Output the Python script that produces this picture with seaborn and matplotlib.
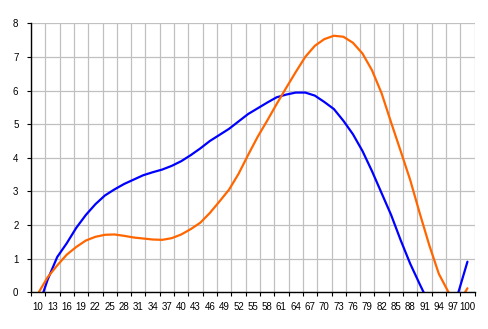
import matplotlib
matplotlib.use("Agg")
import matplotlib.pyplot as plt
import pandas as pd
import seaborn as sns

# Sample positions along the horizontal axis
x_values = [10, 12, 14, 16, 18, 20, 22, 24, 26, 28, 30, 32, 34, 36, 38, 40,
            42, 44, 46, 48, 50, 52, 54, 56, 58, 60, 62, 64, 66, 68, 70, 72,
            74, 76, 78, 80, 82, 84, 86, 88, 90, 92, 94, 96, 98, 100]

# Blue series
blue_values = [-0.45, 0.38, 1.05, 1.46, 1.92, 2.30, 2.62, 2.88, 3.06, 3.22,
               3.35, 3.48, 3.57, 3.65, 3.76, 3.90, 4.08, 4.28, 4.50, 4.68,
               4.86, 5.08, 5.30, 5.47, 5.64, 5.80, 5.88, 5.94, 5.94, 5.85,
               5.66, 5.45, 5.10, 4.70, 4.20, 3.60, 2.95, 2.30, 1.55, 0.85,
               0.24, -0.35, -0.80, -0.80, -0.05, 0.91]

# Orange series
orange_values = [-0.03, 0.45, 0.80, 1.12, 1.35, 1.54, 1.65, 1.71, 1.72, 1.68,
                 1.63, 1.60, 1.57, 1.56, 1.61, 1.72, 1.88, 2.07, 2.36, 2.70,
                 3.05, 3.52, 4.08, 4.62, 5.10, 5.60, 6.08, 6.55, 7.00, 7.33,
                 7.53, 7.63, 7.60, 7.42, 7.10, 6.60, 5.92, 5.05, 4.20, 3.34,
                 2.35, 1.40, 0.55, 0.01, -0.35, 0.12]

# Category labels along the bottom axis
x_labels = [10, 13, 16, 19, 22, 25, 28, 31, 34, 37, 40, 43, 46, 49, 52, 55,
            58, 61, 64, 67, 70, 73, 76, 79, 82, 85, 88, 91, 94, 97, 100]
y_labels = [0, 1, 2, 3, 4, 5, 6, 7, 8]

df = pd.DataFrame({
    "x": x_values * 2,
    "value": blue_values + orange_values,
    "series": ["blue"] * len(x_values) + ["orange"] * len(x_values),
})

sns.set_style("white")
plt.rcParams["font.family"] = ["Liberation Sans", "DejaVu Sans"]

fig = plt.figure(figsize=(4.89, 3.29), dpi=100)
ax = fig.add_axes([31 / 489, 36.7 / 329, (474.3 - 30.7) / 489, (292.3 - 23.3) / 329])

sns.lineplot(data=df, x="x", y="value", hue="series",
             hue_order=["blue", "orange"],
             palette={"blue": "#0000FF", "orange": "#FF6600"},
             linewidth=1.6, legend=False, ax=ax, zorder=3)

half = 1.5
ax.set_xlim(x_labels[0] - half, x_labels[-1] + half)
ax.set_ylim(0, 8)

# Labels sit in the middle of each category; ticks and grid mark the boundaries
ax.set_xticks(x_labels)
ax.set_xticklabels([str(v) for v in x_labels])
boundaries = [x_labels[0] - half + 3 * k for k in range(len(x_labels) + 1)]
ax.set_xticks(boundaries, minor=True)
ax.tick_params(axis="x", which="major", length=0, pad=7, labelsize=7, colors="black")
ax.tick_params(axis="x", which="minor", direction="out", length=3, width=0.8,
               color="black", bottom=True)
ax.set_yticks(y_labels)
ax.set_yticklabels([str(v) for v in y_labels])
ax.tick_params(axis="y", direction="out", length=3, width=0.8, pad=6,
               labelsize=7, colors="black", left=True)

ax.grid(False)
ax.grid(True, axis="x", which="minor", color="#C0C0C0", linewidth=0.9)
ax.grid(True, axis="y", which="major", color="#C0C0C0", linewidth=0.9)
ax.set_axisbelow(True)

for side in ("top", "right"):
    ax.spines[side].set_visible(False)
for side in ("left", "bottom"):
    ax.spines[side].set_color("black")
    ax.spines[side].set_linewidth(1.0)
    ax.spines[side].set_zorder(4)

ax.set_xlabel("")
ax.set_ylabel("")

fig.savefig("out.png", dpi=100)
